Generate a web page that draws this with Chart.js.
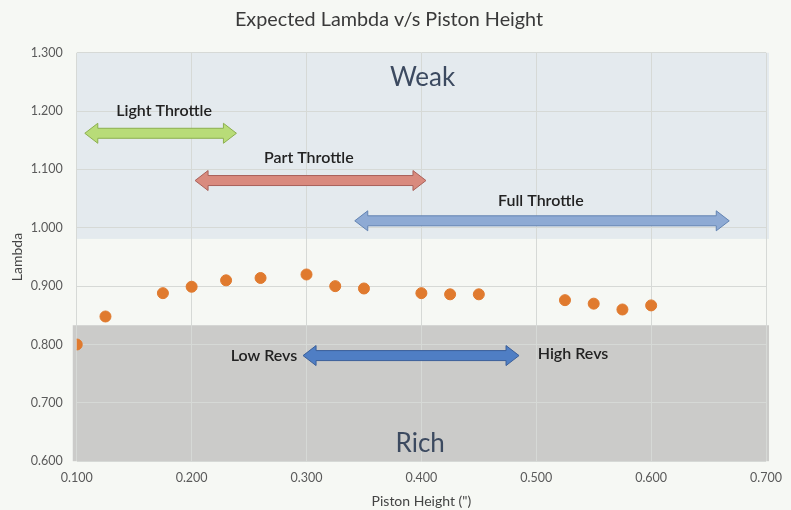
<!DOCTYPE html>
<html lang="en">
<head>
<meta charset="UTF-8">
<title>Expected Lambda v/s Piston Height</title>
<script src="https://cdn.jsdelivr.net/npm/chart.js"></script>
<style>
    body { margin: 0; background: #f6f8f4; }
    .chart-container { width: 791px; height: 510px; }
</style>
</head>
<body>
<div class="chart-container">
    <canvas id="lambdaChart"></canvas>
</div>
<script>
    const pistonHeight = [0.100, 0.125, 0.175, 0.200, 0.230, 0.260, 0.300, 0.325, 0.350,
                          0.400, 0.425, 0.450, 0.525, 0.550, 0.575, 0.600];
    const lambda = [0.800, 0.848, 0.888, 0.899, 0.910, 0.914, 0.920, 0.900, 0.896,
                    0.888, 0.886, 0.886, 0.876, 0.870, 0.860, 0.867];

    const xTicks = [0.1, 0.2, 0.3, 0.4, 0.5, 0.6, 0.7];
    const yTicks = [0.6, 0.7, 0.8, 0.9, 1.0, 1.1, 1.2, 1.3];

    // shaded zones (lambda ranges)
    const weakZone = [0.981, 1.300];
    const richZone = [0.600, 0.833];

    // annotation arrows: [label, xFrom, xTo, y]
    const arrowLabels = ['Light Throttle', 'Part Throttle', 'Full Throttle', 'Low Revs / High Revs'];
    const arrowFrom = [0.107, 0.203, 0.342, 0.297];
    const arrowTo = [0.239, 0.404, 0.668, 0.485];
    const arrowY = [1.162, 1.081, 1.012, 0.781];

    const points = pistonHeight.map((x, i) => ({ x: x, y: lambda[i] }));

    const fontFamily = 'Lato, "Open Sans", sans-serif';

    function blockArrow(ctx, x1, x2, y, fill, stroke) {
        const shaft = 5, head = 10, headLen = 13;
        ctx.beginPath();
        ctx.moveTo(x1, y);
        ctx.lineTo(x1 + headLen, y - head);
        ctx.lineTo(x1 + headLen, y - shaft);
        ctx.lineTo(x2 - headLen, y - shaft);
        ctx.lineTo(x2 - headLen, y - head);
        ctx.lineTo(x2, y);
        ctx.lineTo(x2 - headLen, y + head);
        ctx.lineTo(x2 - headLen, y + shaft);
        ctx.lineTo(x1 + headLen, y + shaft);
        ctx.lineTo(x1 + headLen, y + head);
        ctx.closePath();
        ctx.fillStyle = fill;
        ctx.fill();
        ctx.lineWidth = 1;
        ctx.strokeStyle = stroke;
        ctx.stroke();
    }

    // zones go behind the grid, arrows and labels on top
    const zonesPlugin = {
        id: 'zones',
        beforeDraw(chart) {
            const { ctx, chartArea: a, scales: { x, y } } = chart;
            ctx.save();
            ctx.fillStyle = '#f6f8f4';
            ctx.fillRect(0, 0, chart.width, chart.height);
            ctx.fillStyle = '#e4eaee';
            ctx.fillRect(a.left, y.getPixelForValue(weakZone[1]), a.right - a.left + 3,
                y.getPixelForValue(weakZone[0]) - y.getPixelForValue(weakZone[1]));
            ctx.fillStyle = '#cbcbc9';
            ctx.fillRect(a.left - 4, y.getPixelForValue(richZone[1]), a.right - a.left + 7,
                y.getPixelForValue(richZone[0]) - y.getPixelForValue(richZone[1]));
            ctx.restore();
        },
        afterDatasetsDraw(chart) {
            const { ctx, scales: { x, y } } = chart;
            const fills = ['#b8dc78', '#d98a7e', '#8eaad4', '#4f7ec4'];
            const strokes = ['#8caf4f', '#a9615a', '#6384b3', '#3b5f99'];
            ctx.save();
            arrowLabels.forEach((label, i) => {
                blockArrow(ctx, x.getPixelForValue(arrowFrom[i]), x.getPixelForValue(arrowTo[i]),
                    y.getPixelForValue(arrowY[i]), fills[i], strokes[i]);
            });

            ctx.fillStyle = '#222';
            ctx.textAlign = 'center';
            ctx.textBaseline = 'middle';
            ctx.font = '600 16px ' + fontFamily;
            ctx.fillText('Light Throttle', x.getPixelForValue(0.176), y.getPixelForValue(1.200));
            ctx.fillText('Part Throttle', x.getPixelForValue(0.302), y.getPixelForValue(1.120));
            ctx.fillText('Full Throttle', x.getPixelForValue(0.504), y.getPixelForValue(1.046));
            ctx.fillText('Low Revs', x.getPixelForValue(0.263), y.getPixelForValue(0.781));
            ctx.fillText('High Revs', x.getPixelForValue(0.532), y.getPixelForValue(0.784));

            ctx.fillStyle = '#3c4a60';
            ctx.font = '26px ' + fontFamily;
            ctx.fillText('Weak', x.getPixelForValue(0.401), y.getPixelForValue(1.258));
            ctx.fillText('Rich', x.getPixelForValue(0.399), y.getPixelForValue(0.630));
            ctx.restore();
        }
    };

    const ctx = document.getElementById('lambdaChart').getContext('2d');
    const lambdaChart = new Chart(ctx, {
        type: 'scatter',
        data: {
            datasets: [{
                label: 'Lambda',
                data: points,
                backgroundColor: '#e07a2e',
                borderColor: '#e07a2e',
                pointRadius: 5.5
            }]
        },
        options: {
            responsive: true,
            maintainAspectRatio: false,
            animation: false,
            layout: { padding: { left: 9, right: 22, top: 2, bottom: 0 } },
            plugins: {
                legend: { display: false },
                tooltip: { enabled: false },
                title: {
                    display: true,
                    text: 'Expected Lambda v/s Piston Height',
                    color: '#3a3a3a',
                    font: { family: fontFamily, size: 19.8, weight: 'normal' },
                    padding: { top: 6, bottom: 21 }
                }
            },
            scales: {
                x: {
                    type: 'linear',
                    min: 0.1,
                    max: 0.7,
                    afterBuildTicks: axis => { axis.ticks = xTicks.map(v => ({ value: v })); },
                    ticks: {
                        color: '#5a5a5a',
                        padding: 9,
                        font: { family: fontFamily, size: 12.5 },
                        callback: v => v.toFixed(3)
                    },
                    grid: { color: '#d6d9d6', drawTicks: false },
                    border: { display: false },
                    title: {
                        display: true,
                        text: 'Piston Height (")',
                        color: '#444',
                        font: { family: fontFamily, size: 14 },
                        padding: { top: -1, bottom: 0 }
                    }
                },
                y: {
                    min: 0.6,
                    max: 1.3,
                    afterBuildTicks: axis => { axis.ticks = yTicks.map(v => ({ value: v })); },
                    ticks: {
                        color: '#5a5a5a',
                        padding: 14,
                        font: { family: fontFamily, size: 12.5 },
                        callback: v => v.toFixed(3)
                    },
                    grid: { color: '#d6d9d6', drawTicks: false },
                    border: { display: false },
                    title: {
                        display: true,
                        text: 'Lambda',
                        color: '#444',
                        font: { family: fontFamily, size: 14 },
                        padding: { top: 0, bottom: -9 }
                    }
                }
            }
        },
        plugins: [zonesPlugin]
    });
</script>
</body>
</html>
